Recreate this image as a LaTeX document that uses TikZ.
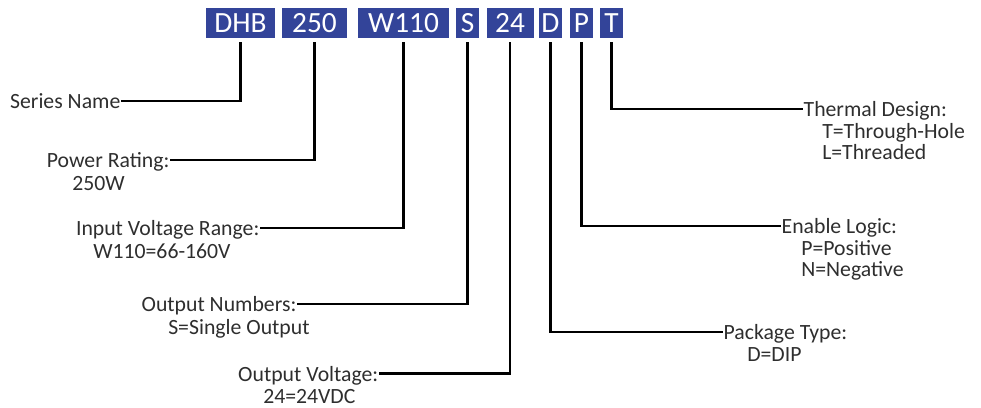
\documentclass[tikz,border=0pt]{standalone}
\usepackage{fontspec}
\setmainfont{Carlito}
\definecolor{boxblue}{HTML}{334499}
\definecolor{txtgray}{HTML}{2E2E2E}
\begin{document}
\begin{tikzpicture}[x=0.75pt,y=-0.75pt,
  code/.style={fill=boxblue,text=white,inner sep=0pt,minimum height=22.5pt,
    minimum width=#1*0.75pt,font=\fontsize{22}{22}\selectfont},
  ttl/.style={inner sep=0.3pt,text height=11.7pt,text depth=0pt,text=txtgray,
    font=\fontsize{16.3}{16.3}\selectfont},
  dtl/.style={inner sep=0pt,anchor=base west,text=txtgray,
    font=\fontsize{16.3}{16.3}\selectfont},
  conn/.style={draw=black,line width=1.9pt,shorten <=3pt}]
\useasboundingbox (0,0) rectangle (981,407);
% code boxes
\node[code=69] (bDHB) at (240.5,23) {DHB};
\node[code=65] (b250) at (314.5,23) {250};
\node[code=91] (bW110) at (403.5,23) {W110};
\node[code=23] (bS) at (467.5,23) {S};
\node[code=47] (b24) at (510,23) {24};
\node[code=23] (bD) at (550.5,23) {D};
\node[code=23] (bP) at (581.5,23) {P};
\node[code=23] (bT) at (611.5,23) {T};
% left labels
\node[ttl,anchor=east] (sn) at (121,101) {Series Name};
\node[ttl,anchor=east] (pr) at (170,160) {Power Rating:};
\node[dtl] (prd) at (72,190) {250W};
\node[ttl,anchor=east] (iv) at (260,228) {Input Voltage Range:};
\node[dtl] (ivd) at (93,258) {W110=66-160V};
\node[ttl,anchor=east] (on) at (297,304) {Output Numbers:};
\node[dtl] (ond) at (168,334) {S=Single Output};
\node[ttl,anchor=east] (ov) at (379,373.5) {Output Voltage:};
\node[dtl] (ovd) at (263,403) {24=24VDC};
% right labels
\node[ttl,anchor=west] (td) at (803,109) {Thermal Design:};
\node[dtl] (td1) at (822,138.5) {T=Through-Hole};
\node[dtl] (td2) at (822,159.5) {L=Threaded};
\node[ttl,anchor=west] (el) at (781,226) {Enable Logic:};
\node[dtl] (el1) at (801,255.5) {P=Positive};
\node[dtl] (el2) at (801,276.5) {N=Negative};
\node[ttl,anchor=west] (pt) at (723,332) {Package Type:};
\node[dtl] (ptd) at (747,361.5) {D=DIP};
% connectors
\draw[conn] (bDHB) |- (sn);
\draw[conn] (b250) |- (pr);
\draw[conn] (bW110) |- (iv);
\draw[conn] (bS) |- (on);
\draw[conn] (b24) |- (ov);
\draw[conn] (bD) |- (pt);
\draw[conn] (bP) |- (el);
\draw[conn] (bT) |- (td);
\end{tikzpicture}
\end{document}
